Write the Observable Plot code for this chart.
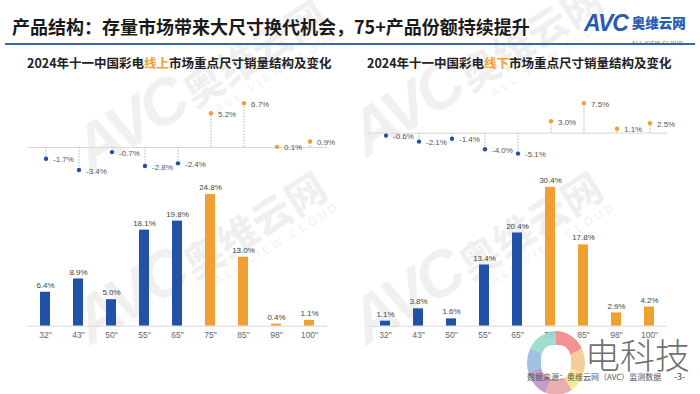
<!DOCTYPE html>
<html><head><meta charset="utf-8">
<script src="https://cdn.jsdelivr.net/npm/d3@7"></script>
<script src="https://cdn.jsdelivr.net/npm/@observablehq/plot@0.6"></script>
<style>
body{margin:0;width:700px;height:394px;overflow:hidden;background:#fff;font-family:"Noto Sans CJK SC","Noto Sans",sans-serif;position:relative}
.abs{position:absolute}
.title{left:12px;top:14px;font-size:18px;line-height:24px;font-weight:bold;color:#1a1a1a;white-space:nowrap}
.rule{left:5px;top:43px;width:690px;height:2px;background:#3a65ab}
.sub{top:53px;width:300px;text-align:center;font-size:12.5px;font-weight:bold;color:#222;white-space:nowrap}
.sub span{color:#f0a030}
.wm{color:rgba(0,0,0,0.06);transform:rotate(-32deg);transform-origin:left top;white-space:nowrap;font-family:"Liberation Sans",sans-serif;font-weight:bold;line-height:1}
.wm .a{font-size:64px;font-style:italic;letter-spacing:-4px}
.wm .b{font-size:40px;font-family:"Noto Sans CJK SC";font-weight:900}
.wm .c{font-size:12px;letter-spacing:3px}
.foot{left:527px;top:371px;font-size:8px;color:#555;white-space:nowrap}
</style></head><body>
<script>
const sizes = ['32"', '43"', '50"', '55"', '65"', '75"', '85"', '98"', '100"'];
const sizeGroup = ["lt75", "lt75", "lt75", "lt75", "lt75", "ge75", "ge75", "ge75", "ge75"];
const onlineShare = [6.4, 8.9, 5.0, 18.1, 19.8, 24.8, 13.0, 0.4, 1.1];
const onlineChange = [-1.7, -3.4, -0.7, -2.8, -2.4, 5.2, 6.7, 0.1, 0.9];
const offlineShare = [1.1, 3.8, 1.6, 13.4, 20.4, 30.4, 17.8, 2.9, 4.2];
const offlineChange = [-0.6, -2.1, -1.4, -4.0, -5.1, 3.0, 7.5, 1.1, 2.5];
const pageTitle = "产品结构：存量市场带来大尺寸换代机会，75+产品份额持续提升";
const sourceNote = "数据来源：奥维云网（AVC）监测数据";

const BLUE = "#2152a6", ORANGE = "#f0a030";
const fmt = v => v.toFixed(1) + "%";

function el(html, cls, style) {
  const d = document.createElement("div");
  d.className = "abs " + cls;
  d.innerHTML = html;
  Object.assign(d.style, style || {});
  document.body.appendChild(d);
  return d;
}
function place(node, left, top) {
  node.style.position = "absolute";
  node.style.left = left + "px";
  node.style.top = top + "px";
  document.body.appendChild(node);
}

// watermarks
const wmHTML = '<span class="a">AVC</span> <span class="b">奥维云网</span><div class="c" style="margin-left:140px;margin-top:-4px">ALL VIEW CLOUD</div>';
[[62, 128], [62, 300], [338, 112], [338, 300]].forEach(([x, y]) => el(wmHTML, "wm", {left: x + "px", top: y + "px"}));

el(pageTitle, "title");
el("", "rule");
// logo
el('<span style="font-family:Liberation Sans;font-weight:bold;font-style:italic;font-size:23px;color:#2a5bb0;letter-spacing:-1px;line-height:1">AVC</span>'
 + '<span style="display:inline-block;vertical-align:top;margin-left:4px;margin-top:1px;line-height:1"><span style="font-size:13.5px;font-weight:900;color:#2a5bb0">奥维云网</span><br><span style="font-size:5px;color:#2a5bb0;letter-spacing:0.7px;font-family:Liberation Sans">ALL VIEW CLOUD</span></span>',
 "", {left: "584px", top: "12px", whiteSpace: "nowrap"});

el('2024年十一中国彩电<span>线上</span>市场重点尺寸销量结构及变化', "sub", {left: "27px"});
el('2024年十一中国彩电<span>线下</span>市场重点尺寸销量结构及变化', "sub", {left: "367px"});

function rows(vals) {
  return sizes.map((s, i) => ({size: s, v: vals[i], g: sizeGroup[i]}));
}

function dotPlot(vals, ml, mr, mt, mb, domain) {
  const data = rows(vals);
  return Plot.plot({
    width: 350, height: 105,
    marginLeft: ml, marginRight: mr, marginTop: mt, marginBottom: mb,
    style: {fontFamily: "Liberation Sans, sans-serif", background: "transparent", overflow: "visible"},
    x: {type: "band", domain: sizes, paddingInner: 0, paddingOuter: 0, axis: null},
    y: {domain, axis: null},
    color: {domain: ["lt75", "ge75"], range: [BLUE, ORANGE]},
    marks: [
      Plot.ruleY([0], {stroke: "#d9d9d9", strokeWidth: 1}),
      Plot.ruleX(data, {x: "size", y1: 0, y2: "v", stroke: "#b5b5b5", strokeDasharray: "1.5,1.5"}),
      Plot.dot(data, {x: "size", y: "v", fill: "g", r: 2.2}),
      Plot.text(data, {x: "size", y: "v", text: d => fmt(d.v), dx: 7, dy: 1, textAnchor: "start", fill: "#555", fontSize: 8, letterSpacing: 0.6})
    ]
  });
}

function barPlot(vals, ml, mr, mt, mb, domain) {
  const data = rows(vals);
  return Plot.plot({
    width: 350, height: 180,
    marginLeft: ml, marginRight: mr, marginTop: mt, marginBottom: mb,
    style: {fontFamily: "Liberation Sans, sans-serif", background: "transparent", overflow: "visible", fontSize: "8.5px", color: "#666"},
    x: {domain: sizes, paddingInner: 0.7, paddingOuter: 0.35, tickSize: 0, tickPadding: 6, label: null},
    y: {domain, axis: null},
    color: {domain: ["lt75", "ge75"], range: [BLUE, ORANGE]},
    marks: [
      Plot.barY(data, {x: "size", y: "v", fill: "g"}),
      Plot.ruleY([0], {stroke: "#d9d9d9", strokeWidth: 1}),
      Plot.text(data, {x: "size", y: "v", text: d => fmt(d.v), dy: -7, fill: "#444", fontSize: 8, letterSpacing: 0.6})
    ]
  });
}

place(dotPlot(onlineChange, 27, 23, 19.2, 6.6, [-4, 8]), 0, 75);
place(dotPlot(offlineChange, 17, 33, 25.7, 23.3, [-6, 8]), 350, 75);
place(barPlot(onlineShare, 27, 23, 17.7, 24.3, [0, 26]), 0, 170);
place(barPlot(offlineShare, 17, 33, 9.5, 24.3, [0, 32]), 350, 170);

// footer
el('<div style="width:58px;height:64px;border-radius:50%;background:conic-gradient(#f08080 0 60deg,#f5c48a 60deg 110deg,#f3e78a 110deg 150deg,#e8a0a0 150deg 200deg,#b98bc4 200deg 250deg,#8fb6dd 250deg 300deg,#8fd8c8 300deg 360deg);opacity:0.85"></div><div style="position:absolute;left:14px;top:14px;width:30px;height:34px;background:#fff;border-radius:40%"></div>', "", {left: "527px", top: "331px"});
el(sourceNote, "foot");
el("电科技", "", {left: "585px", top: "336px", fontSize: "35px", color: "#707070", fontFamily: "Noto Sans CJK SC", fontWeight: "300", whiteSpace: "nowrap", lineHeight: "1"});
el("-3-", "", {left: "674px", top: "370px", fontSize: "9px", color: "#444"});
</script>
</body></html>
